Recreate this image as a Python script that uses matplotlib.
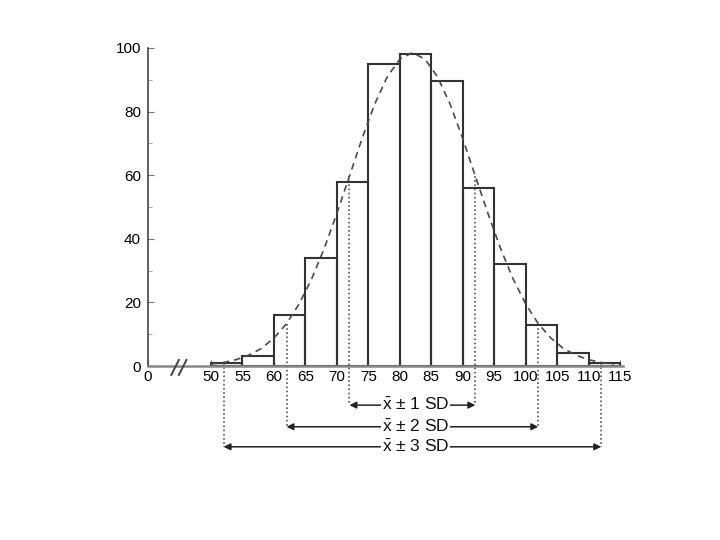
import matplotlib
matplotlib.use('Agg')
import matplotlib.pyplot as plt
import numpy as np

plt.rcParams['font.family'] = ['Liberation Sans', 'DejaVu Sans']
plt.rcParams['mathtext.fontset'] = 'custom'
plt.rcParams['mathtext.rm'] = 'Liberation Sans'
plt.rcParams['mathtext.it'] = 'Liberation Sans'

# histogram: left edge of each 5-unit class and its count
bin_left = [50, 55, 60, 65, 70, 75, 80, 85, 90, 95, 100, 105, 110]
counts = [1, 3, 16, 34, 58, 95, 98, 89.5, 56, 32, 13, 4, 1]
bin_width = 5

# dashed curve
curve_x = [50, 52, 54, 56, 58, 60, 62, 64, 66, 68, 70, 72, 74, 76, 78, 80, 82,
           84, 86, 88, 90, 92, 94, 96, 98, 100, 102, 104, 106, 108, 110, 112, 114]
curve_y = [0.6, 1.1, 2.0, 3.4, 5.5, 8.8, 13.3, 19.5, 27.4, 37.0, 48.0, 59.7, 71.5,
           82.3, 90.9, 96.5, 98.5, 96.5, 90.9, 82.3, 71.5, 59.7, 48.0, 37.0, 27.4,
           19.5, 13.3, 8.8, 5.5, 3.4, 2.0, 1.1, 0.6]

# mean +/- k SD markers
sd_labels = ['1', '2', '3']
sd_low = [72, 62, 52]
sd_high = [92, 102, 112]
sd_level = [-12.3, -19.1, -25.4]
mean_x = 82.5

x_ticks = [0, 50, 55, 60, 65, 70, 75, 80, 85, 90, 95, 100, 105, 110, 115]

# broken axis: 0 sits 10 units left of 50
def pos(v):
    v = np.asarray(v, dtype=float)
    return np.where(v >= 50, v - 40, v)

fig = plt.figure(figsize=(7.2, 5.4), dpi=100)
ax = fig.add_axes([0.2056, 0.3222, 0.66, 0.589])

ax.bar(pos(bin_left), counts, width=bin_width, align='edge', fill=False,
       edgecolor='#333333', linewidth=1.5, zorder=2)

ax.plot(pos(curve_x), curve_y, color='#4a4a4a', linewidth=1.2,
        dashes=(4, 3), zorder=3)

def curve_at(v):
    return np.interp(v, curve_x, curve_y)

for lab, lo, hi, lev in zip(sd_labels, sd_low, sd_high, sd_level):
    for v in (lo, hi):
        ax.plot([pos(v), pos(v)], [curve_at(v), lev], color='#555555',
                linewidth=1.2, linestyle=(0, (1, 1.5)), clip_on=False, zorder=1)
    ax.annotate('', xy=(pos(lo), lev), xytext=(pos(hi), lev),
                arrowprops=dict(arrowstyle='<|-|>', color='#222222', lw=1.1,
                                mutation_scale=10, shrinkA=0, shrinkB=0),
                annotation_clip=False)
    ax.text(pos(mean_x), lev, r'$\bar{\mathrm{x}}$ ± ' + lab + ' SD', ha='center',
            va='center', fontsize=12.5, color='#111111', zorder=5,
            bbox=dict(facecolor='white', edgecolor='none', pad=0.5))

# axis break marks
for x0 in (3.7, 4.9):
    ax.plot([x0, x0 + 1.2], [-2.8, 1.9], color='#444444', linewidth=1.4,
            clip_on=False, zorder=4)

ax.set_xlim(0, 75.5)
ax.set_ylim(0, 100)
ax.set_xticks(pos(x_ticks))
ax.set_xticklabels([str(t) for t in x_ticks])
ax.set_yticks(np.arange(0, 101, 20))
ax.set_yticks(np.arange(10, 100, 20), minor=True)

ax.spines['top'].set_visible(False)
ax.spines['right'].set_visible(False)
ax.spines['left'].set_color('#444444')
ax.spines['bottom'].set_color('#888888')
ax.spines['left'].set_linewidth(1.2)
ax.spines['bottom'].set_linewidth(1.8)

ax.tick_params(axis='both', which='major', direction='in', length=4,
               color='#777777', labelsize=11, labelcolor='#000000')
ax.tick_params(axis='y', which='minor', direction='in', length=3, color='#999999')
ax.tick_params(axis='y', pad=5)
ax.tick_params(axis='x', pad=3)

fig.savefig('out.png', dpi=100)
